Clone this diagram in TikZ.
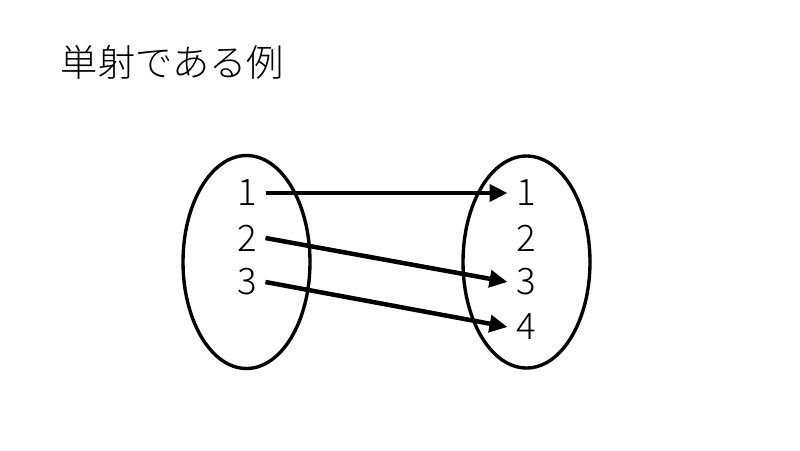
\documentclass[tikz,border=0pt]{standalone}
\usepackage{fontspec}
\setmainfont{Noto Sans CJK JP}[UprightFont={* Light}]
\usetikzlibrary{arrows.meta}

\tikzset{
  elem/.style={font=\fontsize{26}{26}\selectfont, inner sep=6pt},
  setbox/.style={line width=2.4pt},
  mapsto/.style={line width=3.2pt, -{Triangle[length=0.45cm,width=0.42cm]}}
}

\begin{document}
\begin{tikzpicture}[x=0.025cm,y=-0.025cm]
        \useasboundingbox (0,0) rectangle (800,450);

        % title
        \node[anchor=west, font=\fontsize{26.5}{26.5}\selectfont] (title) at (56,62) {単射である例};

        % domain and codomain
        \draw [setbox] (246.5,262) ellipse (63.5 and 106.5);
        \draw [setbox] (526.5,262) ellipse (63.5 and 106);

        \node[elem] (l1) at (247,193) {1};
        \node[elem] (l2) at (247,238) {2};
        \node[elem] (l3) at (247,282) {3};

        \node[elem] (r1) at (526,193) {1};
        \node[elem] (r2) at (526,238) {2};
        \node[elem] (r3) at (526,282) {3};
        \node[elem] (r4) at (526,327) {4};

        % the map
        \draw [mapsto] (l1.east) -- (r1.west);
        \draw [mapsto] (l2.east) -- (r3.west);
        \draw [mapsto] (l3.east) -- (r4.west);
\end{tikzpicture}
\end{document}
